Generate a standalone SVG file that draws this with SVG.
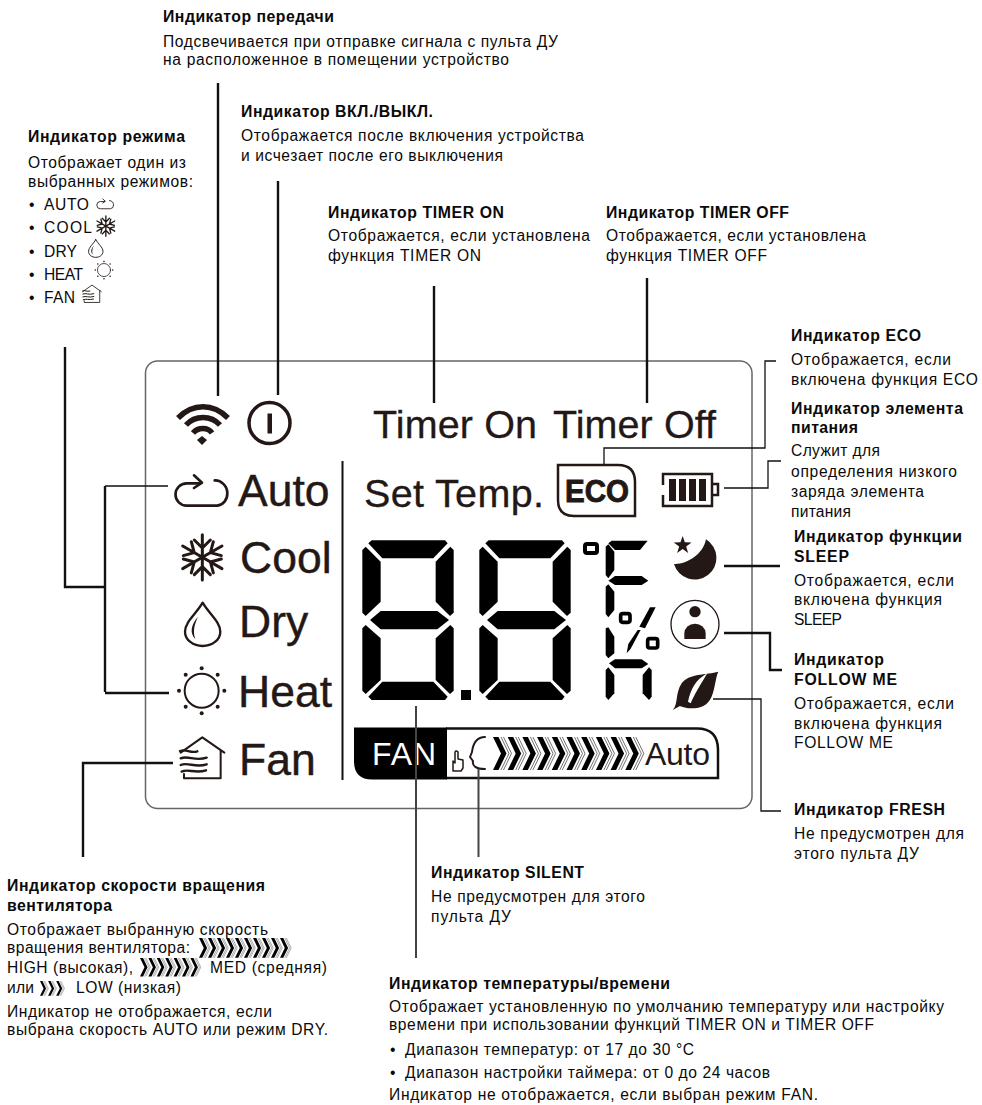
<svg xmlns="http://www.w3.org/2000/svg" xmlns:xlink="http://www.w3.org/1999/xlink" width="982" height="1105" viewBox="0 0 982 1105">
<style>
text{font-family:"Liberation Sans",Arial,sans-serif;fill:#0a0a0a}
.r{font-size:15.600px}
.b{font-size:15.800px;font-weight:bold}
.big{font-size:44.500px;fill:#231815;stroke:#231815;stroke-width:.4}
.mid{font-size:39.500px;fill:#231815;stroke:#231815;stroke-width:.3}
.k{fill:none;stroke:#111}
.w2{stroke-width:2.4}
.w1{stroke-width:1.3}
.g{fill:none;stroke:#444;stroke-width:2}
.ic{fill:none;stroke:#231815;stroke-linecap:round;stroke-linejoin:round}
.f{fill:#231815}
.s{fill:#000}
</style>
<defs>
<g id="digit" class="s">
<path d="M55,40L65,31H285L293,40L250,85H97Z"/>
<path d="M37,60L47,50L92,95V215L47,258L37,248Z"/>
<path d="M311,60L301,50L257,95V215L300,258L311,248Z"/>
<path d="M60,270L92,243H262L297,270L262,298H92Z"/>
<path d="M37,295L47,285L92,325V450L47,492L37,482Z"/>
<path d="M311,295L301,285L257,325V450L300,492L311,482Z"/>
<path d="M55,500L97,455H250L293,500L285,510H65Z"/>
</g>
<g id="cycle" class="ic" stroke-width="8">
<path d="M178,340H140A33,33 0 0 0 140,407H232A33,36 0 0 0 262,370C262,350 245,330 224,331"/>
<path d="M162,316L186,338L162,354"/>
</g>
<g id="arm"><path d="M187,562V494M163,510L187,534L211,510"/></g>
<g id="snow" class="ic" stroke-width="9">
<use xlink:href="#arm"/>
<use xlink:href="#arm" transform="rotate(60 187 562)"/>
<use xlink:href="#arm" transform="rotate(120 187 562)"/>
<use xlink:href="#arm" transform="rotate(180 187 562)"/>
<use xlink:href="#arm" transform="rotate(240 187 562)"/>
<use xlink:href="#arm" transform="rotate(300 187 562)"/>
</g>
<g id="drop">
<path class="ic" stroke-width="7" d="M188,38C170,70 135,95 135,125C135,150 160,168 188,168C216,168 241,150 241,125C241,95 206,70 188,38Z"/>
<path class="f" d="M174,80C153,105 148,128 166,147C157,122 165,100 174,80Z"/>
</g>
<g id="sun">
<circle class="ic" stroke-width="6" cx="185" cy="302" r="51"/>
<g class="f">
<circle cx="185" cy="235" r="6"/><circle cx="185" cy="370" r="6"/><circle cx="117" cy="302" r="6"/><circle cx="253" cy="302" r="6"/>
<circle cx="137" cy="254" r="6"/><circle cx="233" cy="254" r="6"/><circle cx="137" cy="350" r="6"/><circle cx="233" cy="350" r="6"/>
</g>
</g>
<g id="house" class="ic" stroke-width="6">
<path d="M122,488L187,442L253,488M242,480V565H132V552"/>
<path stroke-width="7" d="M120,483C140,475 150,492 172,484M122,505C145,495 165,515 200,503M122,525C145,515 165,535 200,523M125,545C145,535 165,552 198,541"/>
</g>
<g id="chev">
<path d="M0,0H5.500L13.500,16.500L5.500,33H0L8,16.500Z" fill="#000"/>
<path d="M8,0L16,16.500L8,33M10.500,0L18.500,16.500L10.500,33" fill="none" stroke="#333" stroke-width=".7"/>
</g>
</defs>

<rect id="bg" width="982" height="1105" fill="#fff"/>

<g id="panel">
<rect x="145.500" y="361" width="606.500" height="447.500" rx="12" fill="none" stroke="#666" stroke-width="1.500"/>
<path d="M342.500,461V780" stroke="#111" stroke-width="2" fill="none"/>
</g>

<g id="lcd-transmit">
<g class="ic" stroke-width="5.500" stroke-linecap="butt">
<path stroke-linecap="butt" d="M178,418C193,403 213,403 228,418"/>
<path stroke-linecap="butt" d="M186,425C195,415 211,415 220,425"/>
<path stroke-linecap="butt" d="M193,433C198,427 208,427 212,433"/>
</g>
<path class="f" d="M202,436L207,440L202,445L197,440Z"/>
</g>
<g id="lcd-power">
<circle cx="269.500" cy="423" r="20.500" fill="none" stroke="#231815" stroke-width="3.500"/>
<rect x="267.500" y="413.500" width="4.500" height="20" class="f"/>
</g>
<g id="lcd-timer"><text class="mid" x="373" y="438" textLength="164">Timer On</text><text class="mid" x="553" y="438" textLength="163">Timer Off</text></g>

<g id="lcd-modes">
<g transform="translate(140,370) scale(.3333)"><use xlink:href="#cycle"/><use xlink:href="#snow"/></g>
<text class="big" x="238" y="506">Auto</text>
<text class="big" x="240" y="573">Cool</text>
<g transform="translate(140,590) scale(.3333)"><use xlink:href="#drop"/><use xlink:href="#sun"/><use xlink:href="#house"/></g>
<text class="big" x="239" y="637">Dry</text>
<text class="big" x="238" y="707">Heat</text>
<text class="big" x="239" y="775">Fan</text>
</g>

<g id="lcd-settemp"><text class="mid" x="364" y="507" textLength="180">Set Temp.</text></g>

<g id="lcd-eco">
<path d="M558,465H618Q635,465 635,482V516H574Q558,516 558,500Z" fill="#fff" stroke="#231815" stroke-width="2.500"/>
<text x="565" y="502" font-size="31" font-weight="bold" textLength="64" lengthAdjust="spacingAndGlyphs" style="fill:#231815;stroke:#231815;stroke-width:.9">ECO</text>
</g>

<g id="lcd-battery">
<path d="M663,485V474H712V506H663V495" fill="none" stroke="#231815" stroke-width="2.500"/>
<path d="M712,484H718V495H712" fill="none" stroke="#231815" stroke-width="2.500"/>
<g class="f"><rect x="669" y="479" width="7" height="22"/><rect x="679" y="479" width="7" height="22"/><rect x="689" y="479" width="7" height="22"/><rect x="699" y="479" width="7" height="22"/></g>
</g>

<g id="lcd-temp">
<use xlink:href="#digit" transform="translate(350,530) scale(.3333)"/>
<use xlink:href="#digit" transform="translate(467,530) scale(.3333)"/>
<rect x="461" y="690" width="10" height="10" class="s"/>
<rect x="585" y="544" width="12" height="9" rx="2" fill="none" stroke="#000" stroke-width="4"/>
<g transform="translate(600,530) scale(.3333)" class="s">
<path d="M25,40L35,32H143L120,60H45Z"/>
<path d="M17,50L25,43L43,65V120L25,145L17,135Z"/>
<path d="M25,152L45,138H125L145,152L125,165H45Z"/>
<path d="M17,170L25,163L43,185V240L25,262L17,252Z"/>
<path d="M17,295L25,292L43,320V370L25,385L17,375Z"/>
<path d="M27,400L45,388H125L145,402L125,415H45Z"/>
<path d="M17,420L25,412L43,435V490L25,510L17,500Z"/>
<path d="M155,420L147,412L128,435V490L147,510L155,500Z"/>
<rect x="62" y="251" width="28" height="26" rx="6" fill="none" stroke="#000" stroke-width="11"/>
<rect x="143" y="326" width="30" height="28" rx="6" fill="none" stroke="#000" stroke-width="11"/>
<path d="M118,290L150,232H167L135,295Z"/>
<path d="M80,370L85,342L113,300H122L92,356Z"/>
</g>
</g>

<g id="lcd-sleep" transform="translate(600,530) scale(.3333)">
<path class="f" d="M318,28A65,65 0 1 1 222,102C255,105 310,75 318,28Z"/>
<path class="f" d="M248,18L254.500,37.100L274.600,37.300L258.500,49.400L264.500,68.700L248,57L231.500,68.700L237.500,49.400L221.400,37.300L241.500,37.100Z"/>
</g>
<g id="lcd-follow" transform="translate(600,530) scale(.3333)">
<circle cx="285" cy="283" r="72" fill="none" stroke="#231815" stroke-width="4"/>
<circle cx="285" cy="245" r="17" class="f"/>
<path class="f" d="M253,327V310A32,29 0 0 1 317,310V327Z"/>
</g>
<g id="lcd-fresh" transform="translate(600,530) scale(.3333)">
<path class="f" d="M218,540C235,525 225,490 245,460C265,430 320,435 355,425C345,445 345,490 328,512C305,545 255,535 240,528Z"/>
<path fill="#fff" d="M264,515C272,480 285,450 322,430C305,460 290,480 272,520Z"/>
</g>

<g id="lcd-fan">
<path d="M446,728.500H697Q718,728.500 718,750V778H446" fill="#fff" stroke="#111" stroke-width="2.500"/>
<path d="M354,727.500H447V779.500H372Q354,779.500 354,761Z" fill="#000"/>
<text x="372" y="765" font-size="32" textLength="64" style="fill:#fff">FAN</text>
<text x="645" y="765" font-size="32" textLength="65" style="fill:#231815">Auto</text>
<g id="bar-chevrons">
<use xlink:href="#chev" transform="translate(493,737)"/><use xlink:href="#chev" transform="translate(507.700,737)"/><use xlink:href="#chev" transform="translate(522.400,737)"/><use xlink:href="#chev" transform="translate(537.100,737)"/><use xlink:href="#chev" transform="translate(551.800,737)"/><use xlink:href="#chev" transform="translate(566.500,737)"/><use xlink:href="#chev" transform="translate(581.200,737)"/><use xlink:href="#chev" transform="translate(595.900,737)"/><use xlink:href="#chev" transform="translate(610.600,737)"/><use xlink:href="#chev" transform="translate(625.300,737)"/>
</g>
<path class="ic" stroke-width="2" d="M485,737C476,737 473,744 472,752L470,757L473,761C472,766 476,769 485,769"/>
<path class="ic" stroke-width="1.500" fill="#fff" d="M453,771V761L455,763V752Q456,750 458,752V759L463,760V768L461,771Z"/>
</g>

<g id="connectors">
<path class="k w2" d="M218,83V396"/>
<path class="k w2" d="M278,181V395"/>
<path class="k w2" d="M434,286V403"/>
<path class="k w2" d="M647,278V403"/>
<path class="k w2" d="M65,347V587H105"/>
<path class="k w2" d="M105,692V486"/>
<path class="k w1" d="M105,486H168"/>
<path class="k w2" d="M105,693H169"/>
<path class="k w2" d="M83,857V763H173"/>
<path class="g" d="M416,706V958"/>
<path class="g" d="M478.500,769V857"/>
<path class="k w1" d="M604,464V448H765V361H776"/>
<path class="k w1" stroke-width="1.500" d="M724,488H768V461H781"/>
<path class="k w2" d="M724,566H780"/>
<path class="k w2" d="M724,633H770V670H782"/>
<path class="k w1" d="M713,699H761V811H781"/>
</g>

<g id="indicator-transmit">
<text class="b" x="163" y="22" textLength="171">Индикатор передачи</text>
<text class="r" x="163" y="47" textLength="395">Подсвечивается при отправке сигнала с пульта ДУ</text>
<text class="r" x="163" y="65" textLength="346">на расположенное в помещении устройство</text>
</g>
<g id="indicator-power">
<text class="b" x="241" y="117" textLength="192">Индикатор ВКЛ./ВЫКЛ.</text>
<text class="r" x="241" y="141" textLength="343">Отображается после включения устройства</text>
<text class="r" x="241" y="161" textLength="262">и исчезает после его выключения</text>
</g>
<g id="indicator-mode">
<text class="b" x="28" y="142" textLength="157">Индикатор режима</text>
<text class="r" x="28" y="168" textLength="158">Отображает один из</text>
<text class="r" x="28" y="187" textLength="165">выбранных режимов:</text>
<text class="r" x="29" y="210">•</text><text class="r" x="44" y="210" textLength="45">AUTO</text>
<text class="r" x="29" y="233">•</text><text class="r" x="44" y="233" textLength="48">COOL</text>
<text class="r" x="29" y="257">•</text><text class="r" x="44" y="257" textLength="33">DRY</text>
<text class="r" x="29" y="280">•</text><text class="r" x="44" y="280" textLength="39">HEAT</text>
<text class="r" x="29" y="303">•</text><text class="r" x="44" y="303" textLength="31">FAN</text>
<use xlink:href="#cycle" transform="translate(85.300,164.800) scale(.108)"/>
<use xlink:href="#snow" transform="translate(77.800,141.800) scale(.15)"/>
<use xlink:href="#drop" transform="translate(70.200,234.500) scale(.136)"/>
<use xlink:href="#sun" transform="translate(80.300,231.400) scale(.128)"/>
<use xlink:href="#house" transform="translate(65.600,222.800) scale(.141)"/>
</g>
<g id="indicator-timer-on">
<text class="b" x="328" y="218" textLength="176">Индикатор TIMER ON</text>
<text class="r" x="328" y="241" textLength="262">Отображается, если установлена</text>
<text class="r" x="328" y="261" textLength="153">функция TIMER ON</text>
</g>
<g id="indicator-timer-off">
<text class="b" x="606" y="218" textLength="183">Индикатор TIMER OFF</text>
<text class="r" x="606" y="241" textLength="260">Отображается, если установлена</text>
<text class="r" x="606" y="261" textLength="161">функция TIMER OFF</text>
</g>
<g id="indicator-eco">
<text class="b" x="791" y="341" textLength="130">Индикатор ECO</text>
<text class="r" x="791" y="365" textLength="160">Отображается, если</text>
<text class="r" x="791" y="385" textLength="187">включена функция ECO</text>
</g>
<g id="indicator-battery">
<text class="b" x="791" y="414" textLength="172">Индикатор элемента</text>
<text class="b" x="791" y="433" textLength="67">питания</text>
<text class="r" x="791" y="456" textLength="89">Служит для</text>
<text class="r" x="791" y="477" textLength="166">определения низкого</text>
<text class="r" x="791" y="497" textLength="133">заряда элемента</text>
<text class="r" x="791" y="517" textLength="60">питания</text>
</g>
<g id="indicator-sleep">
<text class="b" x="794" y="542" textLength="168">Индикатор функции</text>
<text class="b" x="794" y="562" textLength="55">SLEEP</text>
<text class="r" x="794" y="586" textLength="160">Отображается, если</text>
<text class="r" x="794" y="605" textLength="148">включена функция</text>
<text class="r" x="794" y="625" textLength="48">SLEEP</text>
</g>
<g id="indicator-follow">
<text class="b" x="794" y="665" textLength="90">Индикатор</text>
<text class="b" x="794" y="685" textLength="103">FOLLOW ME</text>
<text class="r" x="794" y="709" textLength="160">Отображается, если</text>
<text class="r" x="794" y="729" textLength="148">включена функция</text>
<text class="r" x="794" y="748" textLength="99">FOLLOW ME</text>
</g>
<g id="indicator-fresh">
<text class="b" x="794" y="815" textLength="151">Индикатор FRESH</text>
<text class="r" x="794" y="839" textLength="170">Не предусмотрен для</text>
<text class="r" x="794" y="859" textLength="125">этого пульта ДУ</text>
</g>
<g id="indicator-silent">
<text class="b" x="431" y="878" textLength="153">Индикатор SILENT</text>
<text class="r" x="431" y="902" textLength="214">Не предусмотрен для этого</text>
<text class="r" x="431" y="922" textLength="80">пульта ДУ</text>
</g>
<g id="indicator-temp">
<text class="b" x="389" y="989" textLength="281">Индикатор температуры/времени</text>
<text class="r" x="389" y="1012" textLength="555">Отображает установленную по умолчанию температуру или настройку</text>
<text class="r" x="389" y="1030" textLength="485">времени при использовании функций TIMER ON и TIMER OFF</text>
<text class="r" x="390" y="1055">•</text><text class="r" x="405" y="1055" textLength="289">Диапазон температур: от 17 до 30 °C</text>
<text class="r" x="390" y="1078">•</text><text class="r" x="405" y="1078" textLength="365">Диапазон настройки таймера: от 0 до 24 часов</text>
<text class="r" x="389" y="1100" textLength="429">Индикатор не отображается, если выбран режим FAN.</text>
</g>
<g id="indicator-fan">
<text class="b" x="7" y="891" textLength="258">Индикатор скорости вращения</text>
<text class="b" x="7" y="911" textLength="105">вентилятора</text>
<text class="r" x="7" y="935" textLength="261">Отображает выбранную скорость</text>
<text class="r" x="7" y="953" textLength="183">вращения вентилятора:</text>
<text class="r" x="7" y="973" textLength="126">HIGH (высокая),</text>
<text class="r" x="210" y="973" textLength="117">MED (средняя)</text>
<text class="r" x="7" y="993" textLength="27">или</text>
<text class="r" x="76" y="993" textLength="105">LOW (низкая)</text>
<text class="r" x="7" y="1017" textLength="265">Индикатор не отображается, если</text>
<text class="r" x="7" y="1035" textLength="321">выбрана скорость AUTO или режим DRY.</text>
<g transform="translate(199,938) scale(.6)"><use xlink:href="#chev"/><use x="15" xlink:href="#chev"/><use x="30" xlink:href="#chev"/><use x="45" xlink:href="#chev"/><use x="60" xlink:href="#chev"/><use x="75" xlink:href="#chev"/><use x="90" xlink:href="#chev"/><use x="105" xlink:href="#chev"/><use x="120" xlink:href="#chev"/><use x="135" xlink:href="#chev"/></g>
<g transform="translate(140,958) scale(.56)"><use xlink:href="#chev"/><use x="15" xlink:href="#chev"/><use x="30" xlink:href="#chev"/><use x="45" xlink:href="#chev"/><use x="60" xlink:href="#chev"/><use x="75" xlink:href="#chev"/><use x="90" xlink:href="#chev"/></g>
<g transform="translate(40,981) scale(.45)"><use xlink:href="#chev"/><use x="18" xlink:href="#chev"/><use x="36" xlink:href="#chev"/></g>
</g>
</svg>
